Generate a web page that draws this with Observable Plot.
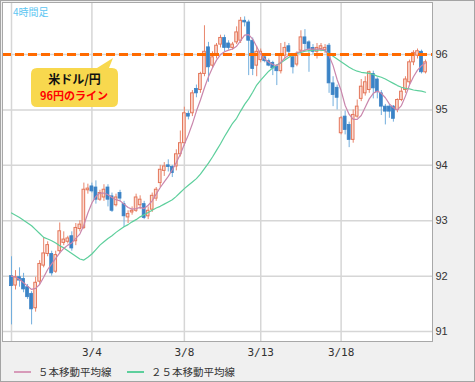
<!DOCTYPE html>
<html><head><meta charset="utf-8">
<script src="https://cdn.jsdelivr.net/npm/d3@7"></script>
<script src="https://cdn.jsdelivr.net/npm/@observablehq/plot@0.6"></script>
<style>
body{margin:0;background:#fff;}
#wrap{position:relative;width:475px;height:382px;box-sizing:border-box;border:1px solid #a4a4a4;background:#f0f0f0;overflow:hidden;font-family:"Liberation Sans",sans-serif;}
#chart svg{display:block}
#tf{position:absolute;left:12px;top:3px;font:10px "Noto Sans CJK JP",sans-serif;color:#5cc6f2;}
#legend{position:absolute;left:0;top:361px;height:19px;width:473px;font:10.5px "Noto Sans CJK JP",sans-serif;color:#333;}
#legend .it{position:absolute;top:0;height:19px;display:flex;align-items:center;}
#legend .ln{display:inline-block;width:17px;height:2px;margin-right:7px;}
#callout{position:absolute;left:-1px;top:-1px;pointer-events:none;}
</style></head><body>
<div id="wrap">
  <div id="chart"></div>
  <div id="tf">4時間足</div>
  <div id="legend"></div>
  <svg id="callout" width="475" height="382">
    <path d="M37,68 L97,68 L113,58 L109,68 L112,68 Q118,68 118,74 L118,101 Q118,107 112,107 L37,107 Q31,107 31,101 L31,74 Q31,68 37,68 Z" fill="#f8d84e"/>
    <text x="74.5" y="83.5" text-anchor="middle" font-family="Noto Sans CJK JP" font-weight="bold" font-size="12" fill="#111">米ドル/円</text>
    <text x="74" y="100" text-anchor="middle" font-family="Noto Sans CJK JP" font-weight="bold" font-size="11" fill="#ff0000">96円のライン</text>
  </svg>
</div>
<script>
const opens = [92.00,91.83,91.98,91.95,91.80,91.68,91.42,91.90,92.19,92.40,92.40,92.08,92.45,92.60,92.62,92.72,92.63,92.85,92.87,93.55,
93.62,93.60,93.38,93.42,93.60,93.44,93.28,93.50,93.30,93.06,93.15,93.18,93.28,93.30,93.08,93.20,93.40,93.68,93.90,94.00,
93.97,93.98,94.20,94.40,94.93,94.94,95.38,95.36,95.65,96.13,95.80,95.98,96.18,96.30,96.20,96.12,96.22,96.25,96.61,96.58,
96.25,95.80,95.90,95.95,95.88,95.85,95.78,95.70,95.98,96.15,95.95,95.82,96.07,96.31,96.22,96.12,96.05,96.10,96.08,96.16,
95.48,95.40,94.58,94.88,94.73,94.46,94.88,95.20,95.30,95.36,95.65,95.55,95.30,95.06,95.06,95.06,95.00,95.18,95.36,95.50,
95.86,95.98,96.05,95.68];
const highs = [92.35,92.10,92.15,92.05,91.85,91.72,91.98,92.28,92.69,92.62,92.45,92.45,92.96,92.80,92.72,92.80,92.95,93.00,93.68,93.66,
93.68,93.72,93.55,93.65,93.65,93.50,93.48,93.55,93.35,93.18,93.25,93.48,93.45,93.35,93.25,93.50,93.60,94.00,94.05,94.10,
94.00,94.28,94.62,95.05,94.98,95.35,95.45,95.68,96.52,96.22,96.05,96.20,96.35,96.35,96.25,96.22,96.50,96.67,96.68,96.62,
96.30,96.15,96.10,96.00,95.92,95.88,95.82,96.20,96.22,96.20,96.00,96.05,96.43,96.45,96.25,96.18,96.20,96.20,96.18,96.20,
95.60,95.45,94.88,94.98,94.78,95.00,95.18,95.55,95.60,95.70,95.70,95.58,95.35,95.10,95.10,95.08,95.20,95.40,95.60,95.90,
96.07,96.10,96.08,95.90];
const lows = [91.12,91.75,91.80,91.70,91.58,91.12,91.35,91.85,92.15,92.35,92.00,92.05,92.40,92.55,92.58,92.45,92.55,92.80,92.84,93.48,
93.50,93.30,93.35,93.35,93.25,93.15,93.25,93.35,92.88,92.95,93.10,93.15,93.20,93.02,93.02,93.15,93.35,93.60,93.80,93.88,
93.78,93.90,94.15,94.35,94.82,94.88,95.22,95.30,95.60,95.50,95.75,95.92,96.12,96.05,96.08,96.08,96.18,96.20,96.50,95.62,
95.62,95.60,95.85,95.85,95.78,95.62,95.44,95.65,95.90,96.00,95.65,95.78,96.00,96.05,95.68,96.00,95.92,96.05,96.02,95.30,
95.06,95.00,94.55,94.55,94.32,94.40,94.85,95.15,95.25,95.30,95.20,95.20,94.90,94.73,94.85,94.78,94.95,95.15,95.30,95.45,
95.80,95.92,95.65,95.65];
const closes = [91.82,91.98,91.92,91.76,91.62,91.40,91.88,92.22,92.41,92.56,92.05,92.38,92.81,92.66,92.68,92.50,92.87,92.93,93.56,93.58,
93.53,93.38,93.50,93.56,93.38,93.18,93.42,93.40,93.08,93.12,93.18,93.42,93.38,93.05,93.18,93.45,93.56,93.92,93.98,93.97,
93.86,94.20,94.40,94.94,94.88,95.30,95.30,95.65,96.05,95.77,95.95,96.16,96.30,96.12,96.12,96.18,96.40,96.61,96.58,96.25,
95.74,96.05,96.05,95.88,95.80,95.75,95.70,96.00,96.12,96.05,95.77,95.98,96.31,96.19,96.10,96.05,96.12,96.15,96.12,95.48,
95.27,95.22,94.85,94.64,94.46,94.91,95.06,95.42,95.50,95.68,95.39,95.32,95.06,94.97,94.97,94.84,95.18,95.33,95.55,95.86,
96.03,96.06,95.68,95.86];
const ma5 = [92.00,91.98,91.94,91.88,91.82,91.76,91.78,91.85,91.98,92.12,92.22,92.32,92.42,92.50,92.56,92.60,92.68,92.76,92.92,93.14,
93.32,93.44,93.50,93.50,93.47,93.42,93.38,93.36,93.30,93.24,93.21,93.22,93.24,93.22,93.28,93.36,93.48,93.60,93.70,93.80,
93.92,94.05,94.20,94.38,94.55,94.75,94.98,95.18,95.40,95.60,95.76,95.90,96.00,96.05,96.08,96.10,96.15,96.25,96.35,96.36,
96.28,96.14,96.00,95.92,95.86,95.82,95.80,95.86,95.94,95.99,96.01,96.03,96.06,96.08,96.10,96.10,96.10,96.10,96.08,95.98,
95.80,95.55,95.35,95.08,94.92,94.83,94.83,94.90,95.05,95.20,95.30,95.34,95.30,95.22,95.11,95.04,95.00,95.08,95.25,95.45,
95.60,95.72,95.80,95.85];
const ma25 = [93.14,93.10,93.06,93.01,92.96,92.91,92.84,92.77,92.70,92.67,92.64,92.60,92.55,92.51,92.46,92.41,92.36,92.31,92.29,92.34,
92.40,92.48,92.56,92.62,92.68,92.73,92.79,92.84,92.89,92.93,92.98,93.02,93.07,93.11,93.15,93.19,93.23,93.26,93.30,93.34,
93.38,93.44,93.51,93.58,93.64,93.70,93.76,93.84,93.94,94.04,94.15,94.27,94.39,94.52,94.64,94.76,94.85,94.98,95.10,95.20,
95.32,95.45,95.54,95.62,95.70,95.76,95.81,95.85,95.90,95.95,95.99,96.02,96.04,96.06,96.07,96.08,96.08,96.08,96.07,96.02,
95.97,95.92,95.87,95.82,95.77,95.73,95.70,95.68,95.67,95.66,95.64,95.61,95.59,95.56,95.52,95.48,95.44,95.41,95.39,95.38,
95.36,95.35,95.34,95.32];
const tickIdx = [0, 20, 43, 62, 82];
const tickLabels = ["", "3/4", "3/8", "3/13", "3/18"];
const yTicks = [91, 92, 93, 94, 95, 96];
const refLevel = [96];
const seriesNames = ["５本移動平均線", "２５本移動平均線"];
const seriesColors = ["#d79ab9", "#5dcf9c"];

const rows = opens.map((o, i) => ({i, o, h: highs[i], l: lows[i], c: closes[i], up: closes[i] >= o}));
const upRows = rows.filter(d => d.up), dnRows = rows.filter(d => !d.up);
const ma5Rows = ma5.map((v, i) => ({i, v}));
const ma25Rows = ma25.map((v, i) => ({i, v}));

const chart = Plot.plot({
  width: 473, height: 361,
  marginLeft: 1, marginRight: 42, marginTop: 1, marginBottom: 21,
  style: {background: "transparent", fontFamily: "Liberation Sans", fontSize: "11px", color: "#333", overflow: "visible"},
  x: {domain: [-2.24, 104.73]},
  y: {domain: [90.82, 96.94]},
  marks: [
    Plot.frame({fill: "#fff"}),
    Plot.gridY(yTicks, {stroke: "#d6d6d6", strokeOpacity: 1, strokeWidth: 1.5}),
    Plot.gridX(tickIdx, {stroke: "#d6d6d6", strokeOpacity: 1, strokeWidth: 1.5}),
    Plot.axisY(yTicks, {anchor: "right", tickSize: 0, tickPadding: 3, fontSize: 11, fill: "#333", label: null, tickFormat: d => String(d)}),
    Plot.axisX(tickIdx, {anchor: "bottom", tickSize: 0, tickPadding: 7, fontSize: 11, fontFamily: "DejaVu Sans Mono", fill: "#333", label: null,
      tickFormat: d => tickLabels[tickIdx.indexOf(d)]}),
    Plot.ruleX(upRows, {x: "i", y1: "l", y2: "h", stroke: "#e8866c", strokeWidth: 1}),
    Plot.ruleX(dnRows, {x: "i", y1: "l", y2: "h", stroke: "#72aedd", strokeWidth: 1}),
    Plot.rect(upRows, {x1: d => d.i - 0.33, x2: d => d.i + 0.33, y1: "o", y2: "c", fill: "#fbdcd2", stroke: "#e4765a", strokeWidth: 1}),
    Plot.rect(dnRows, {x1: d => d.i - 0.36, x2: d => d.i + 0.36, y1: "o", y2: "c", fill: "#3b83c6", stroke: "#3b83c6", strokeWidth: 0.8}),
    Plot.line(ma25Rows, {x: "i", y: "v", stroke: seriesColors[1], strokeWidth: 1.2}),
    Plot.line(ma5Rows, {x: "i", y: "v", stroke: "#c986ac", strokeWidth: 1.2}),
    Plot.ruleY(refLevel, {stroke: "#ff6a00", strokeWidth: 3, strokeDasharray: "9,4"}),
    Plot.frame({stroke: "#a8a8a8"})
  ]
});
document.getElementById("chart").appendChild(chart);

const legend = document.getElementById("legend");
const lefts = [13, 126];
seriesNames.forEach((name, k) => {
  const it = document.createElement("div");
  it.className = "it";
  it.style.left = lefts[k] + "px";
  it.innerHTML = `<span class="ln" style="background:${seriesColors[k]}"></span><span>${name}</span>`;
  legend.appendChild(it);
});
</script>
</body></html>
